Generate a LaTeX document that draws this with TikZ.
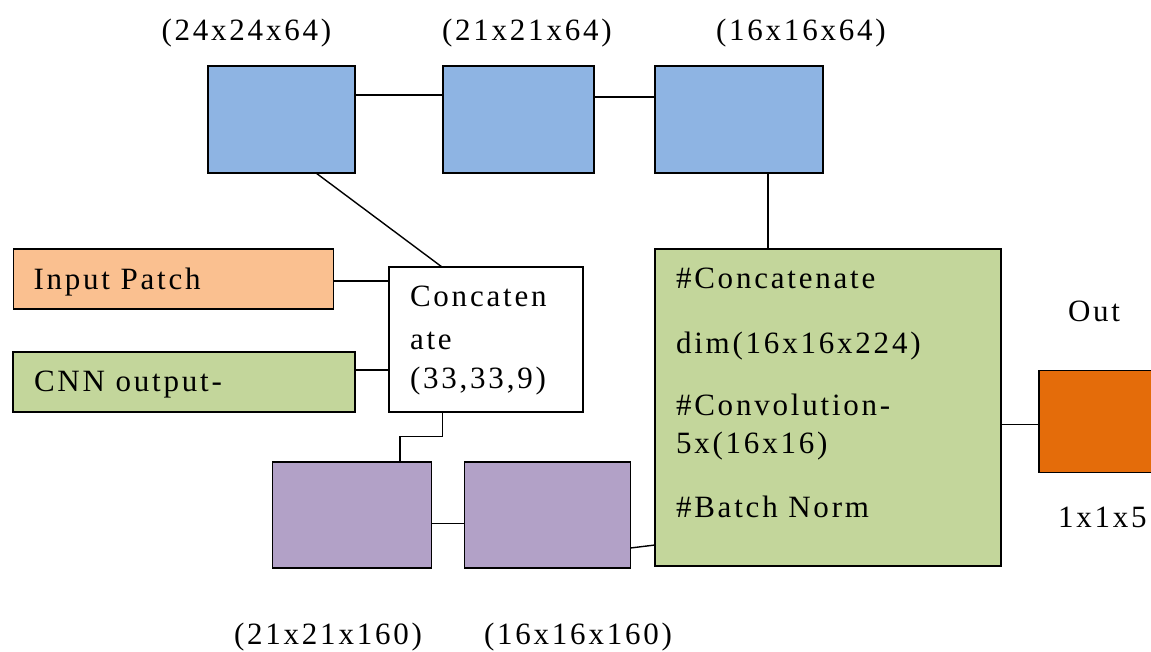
\documentclass[tikz,border=0pt]{standalone}
\usepackage{fontspec}
\setmainfont{Liberation Serif}[LetterSpace=9]
\definecolor{cblue}{HTML}{8EB4E3}
\definecolor{corl}{HTML}{FAC090}
\definecolor{cgreen}{HTML}{C3D69B}
\definecolor{cpurp}{HTML}{B2A1C7}
\definecolor{cord}{HTML}{E46C0A}
\tikzset{
  blk/.style={draw=black, line width=1.6pt, inner sep=0pt, outer sep=0pt, rectangle},
  wire/.style={draw=black, line width=1.4pt},
  txt/.style={anchor=base west, inner sep=0pt, outer sep=0pt, font=\fontsize{31}{41}\selectfont}
}
\begin{document}
\begin{tikzpicture}[x=1pt,y=-1pt]
\clip (0,0) rectangle (1151,652);
\fill[white] (0,0) rectangle (1151,652);
% blue row
\node[blk, fill=cblue, minimum width=147pt, minimum height=107pt] (b1) at (281.5,119.5) {};
\node[blk, fill=cblue, minimum width=151pt, minimum height=107pt] (b2) at (518.5,119.5) {};
\node[blk, fill=cblue, minimum width=168pt, minimum height=107pt] (b3) at (739,119.5) {};
% inputs
\node[blk, fill=corl, minimum width=320pt, minimum height=60pt] (inp) at (173.3,279.3) {};
\node[blk, fill=cgreen, minimum width=342pt, minimum height=60pt] (cnn) at (184,382) {};
% concat
\node[blk, fill=white, minimum width=194pt, minimum height=145pt] (cat) at (486,339.5) {};
% purple
\node[blk, fill=cpurp, minimum width=159pt, minimum height=106pt] (p1) at (352,514.7) {};
\node[blk, fill=cpurp, minimum width=166pt, minimum height=106pt] (p2) at (547.5,514.7) {};
% big green
\node[blk, fill=cgreen, minimum width=346pt, minimum height=317pt] (g) at (828,407.7) {};
% output
\node[blk, fill=cord, minimum width=130pt, minimum height=102pt] (o) at (1104,421.3) {};
% connectors
\draw[wire] (b1.east |- 0,95) -- (b2.west |- 0,95);
\draw[wire] (b2.east |- 0,97) -- (b3.west |- 0,97);
\draw[wire] ([xshift=34.5pt]b1.south) -- ([xshift=-44pt]cat.north);
\draw[wire] (b3.south -| 768,0) -- (g.north -| 768,0);
\draw[wire] (inp.east |- 0,281) -- (cat.west |- 0,281);
\draw[wire] (cnn.east |- 0,370) -- (cat.west |- 0,370);
\draw[wire] (cat.south -| 442.5,0) |- (400,436.5) -- (p1.north -| 400,0);
\draw[wire] (p1.east |- 0,523.5) -- (p2.west |- 0,523.5);
\draw[wire] (p2.east |- 0,548) -- (g.west |- 0,545);
\draw[wire] (g.east |- 0,424.5) -- (o.west |- 0,424.5);
% labels
\node[txt] (l1) at (161.5,41) {(24x24x64)};
\node[txt] (l2) at (442,41) {(21x21x64)};
\node[txt] (l3) at (716,41) {(16x16x64)};
\node[txt] (tin) at (33.5,290) {Input Patch};
\node[txt] (tcnn) at (34,391) {CNN output-};
\node[txt] (tc1) at (410,306.7) {Concaten};
\node[txt] (tc2) at (410,349) {ate};
\node[txt] (tc3) at (410,388) {(33,33,9)};
\node[txt] (tg1) at (676,289) {\#Concatenate};
\node[txt] (tg2) at (676,353) {dim(16x16x224)};
\node[txt] (tg3) at (676,415) {\#Convolution-};
\node[txt] (tg4) at (676,453) {5x(16x16)};
\node[txt] (tg5) at (676,517) {\#Batch Norm};
\node[txt] (tout) at (1068,322) {Out};
\node[txt] (tdim) at (1058,527) {1x1x5};
\node[txt] (lb1) at (234,644) {(21x21x160)};
\node[txt] (lb2) at (484,644) {(16x16x160)};
\end{tikzpicture}
\end{document}
